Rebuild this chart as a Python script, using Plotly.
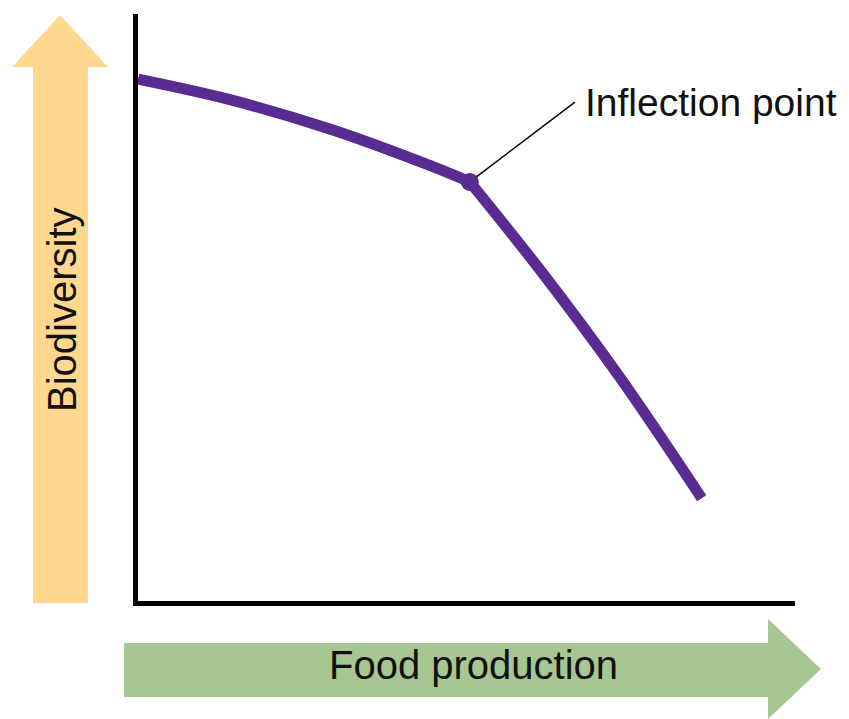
import plotly.graph_objects as go

# Conceptual trade-off curve: biodiversity falls as food production rises,
# slowly at first and then steeply past the inflection point.
gentle_x = [0.0, 1.4, 2.92, 4.44, 5.05]
gentle_y = [8.89, 8.54, 8.04, 7.42, 7.14]
steep_x = [5.05, 6.12, 7.34, 8.58]
steep_y = [7.14, 5.64, 3.80, 1.75]
inflection_x = 5.05
inflection_y = 7.14
label_anchor = (6.65, 8.5)

WIDTH, HEIGHT = 849, 719
PLOT_L, PLOT_R, PLOT_T, PLOT_B = 138, 795, 14, 601

PURPLE = "#5A2B91"
YELLOW = "#FFD78E"
GREEN = "#A6C791"
FONT = "Liberation Sans, Arial, sans-serif"


def px(x, y):
    """Pixel position -> paper coordinates of the plot area."""
    return ((x - PLOT_L) / (PLOT_R - PLOT_L), (PLOT_B - y) / (PLOT_B - PLOT_T))


def arrow_path(points):
    pts = [px(x, y) for x, y in points]
    return "M " + " L ".join(f"{a:.5f},{b:.5f}" for a, b in pts) + " Z"


fig = go.Figure()

# leader line from the inflection point to its label
fig.add_trace(go.Scatter(
    x=[inflection_x, label_anchor[0]], y=[inflection_y, label_anchor[1]],
    mode="lines", line=dict(color="black", width=1.5),
    hoverinfo="skip", showlegend=False,
))

for xs, ys in ((gentle_x, gentle_y), (steep_x, steep_y)):
    fig.add_trace(go.Scatter(
        x=xs, y=ys, mode="lines",
        line=dict(color=PURPLE, width=11, shape="spline", smoothing=1.0),
        hoverinfo="skip", showlegend=False,
    ))

fig.add_trace(go.Scatter(
    x=[inflection_x], y=[inflection_y],
    mode="markers", marker=dict(color=PURPLE, size=18),
    hoverinfo="skip", showlegend=False,
))

# direction arrows for each axis
up_arrow = [(33, 603), (33, 67), (12, 67), (60, 15), (108, 67), (88, 67), (88, 603)]
right_arrow = [(124, 643), (768, 643), (768, 619), (821, 669), (768, 719), (768, 697), (124, 697)]

shapes = [
    dict(type="path", xref="paper", yref="paper", path=arrow_path(up_arrow),
         fillcolor=YELLOW, line=dict(width=0), layer="below"),
    dict(type="path", xref="paper", yref="paper", path=arrow_path(right_arrow),
         fillcolor=GREEN, line=dict(width=0), layer="below"),
]

bio_x, bio_y = px(62, 310)
food_x, food_y = px(473, 665)

annotations = [
    dict(text="Biodiversity", xref="paper", yref="paper", x=bio_x, y=bio_y,
         textangle=-90, showarrow=False, xanchor="center", yanchor="middle",
         font=dict(family=FONT, size=40, color="#111111")),
    dict(text="Food production", xref="paper", yref="paper", x=food_x, y=food_y,
         showarrow=False, xanchor="center", yanchor="middle",
         font=dict(family=FONT, size=40, color="#111111")),
    dict(text="Inflection point", xref="x", yref="y",
         x=label_anchor[0] + 0.12, y=label_anchor[1],
         showarrow=False, xanchor="left", yanchor="middle",
         font=dict(family=FONT, size=39, color="#111111")),
]

axis_style = dict(
    range=[0, 10], showgrid=False, zeroline=False, showticklabels=False,
    ticks="", showline=True, linecolor="black", linewidth=5, fixedrange=True,
)

fig.update_layout(
    width=WIDTH, height=HEIGHT,
    margin=dict(l=PLOT_L, r=WIDTH - PLOT_R, t=PLOT_T, b=HEIGHT - PLOT_B),
    paper_bgcolor="white", plot_bgcolor="white",
    xaxis=axis_style, yaxis=axis_style,
    shapes=shapes, annotations=annotations,
    showlegend=False,
)

fig.write_html("out.html", config={"displayModeBar": False})
